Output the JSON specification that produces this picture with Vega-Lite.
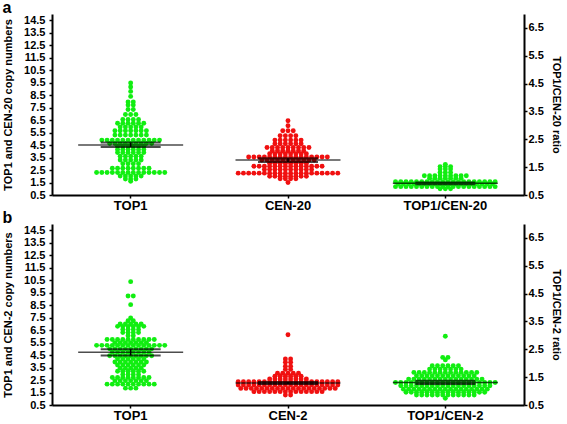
{
"$schema": "https://vega.github.io/schema/vega-lite/v6.json",
"padding": {"left": 2, "right": 0, "top": 0, "bottom": 0},
"spacing": -2,
"config": {
 "view": {"stroke": null},
 "font": "Liberation Sans",
 "axis": {"domainColor": "black", "domainWidth": 2, "tickColor": "black", "tickWidth": 1.5, "tickSize": 3, "labelColor": "black", "labelFont": "Liberation Sans", "labelFontWeight": "bold", "labelFontSize": 11, "labelOverlap": false, "grid": false, "titleColor": "black", "titleFont": "Liberation Sans", "titleFontWeight": "bold", "titleFontSize": 11},
 "title": {"color": "black", "font": "Liberation Sans", "fontWeight": "bold", "fontSize": 16, "anchor": "start", "frame": "bounds", "offset": -2}
},
"datasets": {
 "a": [
  {"g":"TOP1","v":9.47},{"g":"TOP1","v":9.15},{"g":"TOP1","v":8.8},{"g":"TOP1","v":8.4},
  {"g":"TOP1","v":7.95},{"g":"TOP1","v":7.95},
  {"g":"TOP1","v":7.7},{"g":"TOP1","v":7.7},
  {"g":"TOP1","v":7.35},{"g":"TOP1","v":7.35},
  {"g":"TOP1","v":6.95},{"g":"TOP1","v":6.95},{"g":"TOP1","v":6.95},
  {"g":"TOP1","v":6.55},{"g":"TOP1","v":6.55},{"g":"TOP1","v":6.55},{"g":"TOP1","v":6.55},
  {"g":"TOP1","v":6.25},{"g":"TOP1","v":6.25},{"g":"TOP1","v":6.25},{"g":"TOP1","v":6.25},{"g":"TOP1","v":6.25},{"g":"TOP1","v":6.25},
  {"g":"TOP1","v":5.95},{"g":"TOP1","v":5.95},{"g":"TOP1","v":5.95},{"g":"TOP1","v":5.95},{"g":"TOP1","v":5.95},
  {"g":"TOP1","v":5.65},{"g":"TOP1","v":5.65},{"g":"TOP1","v":5.65},{"g":"TOP1","v":5.65},{"g":"TOP1","v":5.65},{"g":"TOP1","v":5.65},{"g":"TOP1","v":5.65},
  {"g":"TOP1","v":5.3},{"g":"TOP1","v":5.3},{"g":"TOP1","v":5.3},{"g":"TOP1","v":5.3},{"g":"TOP1","v":5.3},{"g":"TOP1","v":5.3},{"g":"TOP1","v":5.3},
  {"g":"TOP1","v":4.9},{"g":"TOP1","v":4.9},{"g":"TOP1","v":4.9},{"g":"TOP1","v":4.9},{"g":"TOP1","v":4.9},{"g":"TOP1","v":4.9},{"g":"TOP1","v":4.9},{"g":"TOP1","v":4.9},{"g":"TOP1","v":4.9},{"g":"TOP1","v":4.9},{"g":"TOP1","v":4.9},{"g":"TOP1","v":4.9},
  {"g":"TOP1","v":4.62},{"g":"TOP1","v":4.62},{"g":"TOP1","v":4.62},{"g":"TOP1","v":4.62},{"g":"TOP1","v":4.62},{"g":"TOP1","v":4.62},{"g":"TOP1","v":4.62},{"g":"TOP1","v":4.62},{"g":"TOP1","v":4.62},
  {"g":"TOP1","v":4.4},{"g":"TOP1","v":4.4},{"g":"TOP1","v":4.4},{"g":"TOP1","v":4.4},{"g":"TOP1","v":4.4},{"g":"TOP1","v":4.4},
  {"g":"TOP1","v":4.15},{"g":"TOP1","v":4.15},{"g":"TOP1","v":4.15},{"g":"TOP1","v":4.15},{"g":"TOP1","v":4.15},{"g":"TOP1","v":4.15},
  {"g":"TOP1","v":3.9},{"g":"TOP1","v":3.9},{"g":"TOP1","v":3.9},{"g":"TOP1","v":3.9},{"g":"TOP1","v":3.9},{"g":"TOP1","v":3.9},
  {"g":"TOP1","v":3.6},{"g":"TOP1","v":3.6},{"g":"TOP1","v":3.6},{"g":"TOP1","v":3.6},{"g":"TOP1","v":3.6},
  {"g":"TOP1","v":3.3},{"g":"TOP1","v":3.3},{"g":"TOP1","v":3.3},{"g":"TOP1","v":3.3},{"g":"TOP1","v":3.3},
  {"g":"TOP1","v":3.0},{"g":"TOP1","v":3.0},{"g":"TOP1","v":3.0},{"g":"TOP1","v":3.0},
  {"g":"TOP1","v":2.65},{"g":"TOP1","v":2.65},{"g":"TOP1","v":2.65},{"g":"TOP1","v":2.65},{"g":"TOP1","v":2.65},{"g":"TOP1","v":2.65},{"g":"TOP1","v":2.65},{"g":"TOP1","v":2.65},
  {"g":"TOP1","v":2.3},{"g":"TOP1","v":2.3},{"g":"TOP1","v":2.3},{"g":"TOP1","v":2.3},{"g":"TOP1","v":2.3},{"g":"TOP1","v":2.3},{"g":"TOP1","v":2.3},{"g":"TOP1","v":2.3},{"g":"TOP1","v":2.3},{"g":"TOP1","v":2.3},{"g":"TOP1","v":2.3},{"g":"TOP1","v":2.3},{"g":"TOP1","v":2.3},{"g":"TOP1","v":2.3},
  {"g":"TOP1","v":2.02},{"g":"TOP1","v":2.02},{"g":"TOP1","v":2.02},{"g":"TOP1","v":2.02},{"g":"TOP1","v":2.02},
  {"g":"TOP1","v":1.78},{"g":"TOP1","v":1.78},{"g":"TOP1","v":1.78},
  {"g":"TOP1","v":1.6},
  {"g":"CEN-20","v":6.45},{"g":"CEN-20","v":6.05},
  {"g":"CEN-20","v":5.65},{"g":"CEN-20","v":5.65},{"g":"CEN-20","v":5.65},
  {"g":"CEN-20","v":5.25},{"g":"CEN-20","v":5.25},{"g":"CEN-20","v":5.25},{"g":"CEN-20","v":5.25},
  {"g":"CEN-20","v":4.9},{"g":"CEN-20","v":4.9},{"g":"CEN-20","v":4.9},{"g":"CEN-20","v":4.9},{"g":"CEN-20","v":4.9},{"g":"CEN-20","v":4.9},
  {"g":"CEN-20","v":4.6},{"g":"CEN-20","v":4.6},{"g":"CEN-20","v":4.6},{"g":"CEN-20","v":4.6},{"g":"CEN-20","v":4.6},{"g":"CEN-20","v":4.6},
  {"g":"CEN-20","v":4.3},{"g":"CEN-20","v":4.3},{"g":"CEN-20","v":4.3},{"g":"CEN-20","v":4.3},{"g":"CEN-20","v":4.3},{"g":"CEN-20","v":4.3},{"g":"CEN-20","v":4.3},{"g":"CEN-20","v":4.3},{"g":"CEN-20","v":4.3},
  {"g":"CEN-20","v":4.05},{"g":"CEN-20","v":4.05},{"g":"CEN-20","v":4.05},{"g":"CEN-20","v":4.05},{"g":"CEN-20","v":4.05},{"g":"CEN-20","v":4.05},{"g":"CEN-20","v":4.05},
  {"g":"CEN-20","v":3.8},{"g":"CEN-20","v":3.8},{"g":"CEN-20","v":3.8},{"g":"CEN-20","v":3.8},{"g":"CEN-20","v":3.8},{"g":"CEN-20","v":3.8},{"g":"CEN-20","v":3.8},{"g":"CEN-20","v":3.8},
  {"g":"CEN-20","v":3.55},{"g":"CEN-20","v":3.55},{"g":"CEN-20","v":3.55},{"g":"CEN-20","v":3.55},{"g":"CEN-20","v":3.55},{"g":"CEN-20","v":3.55},{"g":"CEN-20","v":3.55},{"g":"CEN-20","v":3.55},{"g":"CEN-20","v":3.55},{"g":"CEN-20","v":3.55},{"g":"CEN-20","v":3.55},{"g":"CEN-20","v":3.55},{"g":"CEN-20","v":3.55},{"g":"CEN-20","v":3.55},{"g":"CEN-20","v":3.55},{"g":"CEN-20","v":3.55},
  {"g":"CEN-20","v":3.3},{"g":"CEN-20","v":3.3},{"g":"CEN-20","v":3.3},{"g":"CEN-20","v":3.3},{"g":"CEN-20","v":3.3},{"g":"CEN-20","v":3.3},{"g":"CEN-20","v":3.3},{"g":"CEN-20","v":3.3},{"g":"CEN-20","v":3.3},{"g":"CEN-20","v":3.3},{"g":"CEN-20","v":3.3},
  {"g":"CEN-20","v":3.05},{"g":"CEN-20","v":3.05},{"g":"CEN-20","v":3.05},{"g":"CEN-20","v":3.05},{"g":"CEN-20","v":3.05},{"g":"CEN-20","v":3.05},{"g":"CEN-20","v":3.05},{"g":"CEN-20","v":3.05},
  {"g":"CEN-20","v":2.8},{"g":"CEN-20","v":2.8},{"g":"CEN-20","v":2.8},{"g":"CEN-20","v":2.8},{"g":"CEN-20","v":2.8},{"g":"CEN-20","v":2.8},{"g":"CEN-20","v":2.8},{"g":"CEN-20","v":2.8},{"g":"CEN-20","v":2.8},{"g":"CEN-20","v":2.8},{"g":"CEN-20","v":2.8},{"g":"CEN-20","v":2.8},{"g":"CEN-20","v":2.8},{"g":"CEN-20","v":2.8},
  {"g":"CEN-20","v":2.55},{"g":"CEN-20","v":2.55},{"g":"CEN-20","v":2.55},{"g":"CEN-20","v":2.55},{"g":"CEN-20","v":2.55},{"g":"CEN-20","v":2.55},{"g":"CEN-20","v":2.55},{"g":"CEN-20","v":2.55},{"g":"CEN-20","v":2.55},{"g":"CEN-20","v":2.55},
  {"g":"CEN-20","v":2.25},{"g":"CEN-20","v":2.25},{"g":"CEN-20","v":2.25},{"g":"CEN-20","v":2.25},{"g":"CEN-20","v":2.25},{"g":"CEN-20","v":2.25},{"g":"CEN-20","v":2.25},{"g":"CEN-20","v":2.25},{"g":"CEN-20","v":2.25},{"g":"CEN-20","v":2.25},{"g":"CEN-20","v":2.25},{"g":"CEN-20","v":2.25},{"g":"CEN-20","v":2.25},{"g":"CEN-20","v":2.25},{"g":"CEN-20","v":2.25},{"g":"CEN-20","v":2.25},{"g":"CEN-20","v":2.25},{"g":"CEN-20","v":2.25},{"g":"CEN-20","v":2.25},{"g":"CEN-20","v":2.25},
  {"g":"CEN-20","v":2.0},{"g":"CEN-20","v":2.0},{"g":"CEN-20","v":2.0},{"g":"CEN-20","v":2.0},{"g":"CEN-20","v":2.0},{"g":"CEN-20","v":2.0},{"g":"CEN-20","v":2.0},{"g":"CEN-20","v":2.0},
  {"g":"CEN-20","v":1.8},{"g":"CEN-20","v":1.8},{"g":"CEN-20","v":1.8},{"g":"CEN-20","v":1.8},
  {"g":"CEN-20","v":1.5},
  {"g":"TOP1/CEN-20","v":1.6},
  {"g":"TOP1/CEN-20","v":1.52},{"g":"TOP1/CEN-20","v":1.52},{"g":"TOP1/CEN-20","v":1.52},
  {"g":"TOP1/CEN-20","v":1.43},{"g":"TOP1/CEN-20","v":1.43},{"g":"TOP1/CEN-20","v":1.43},
  {"g":"TOP1/CEN-20","v":1.31},{"g":"TOP1/CEN-20","v":1.31},{"g":"TOP1/CEN-20","v":1.31},
  {"g":"TOP1/CEN-20","v":1.19},{"g":"TOP1/CEN-20","v":1.19},{"g":"TOP1/CEN-20","v":1.19},{"g":"TOP1/CEN-20","v":1.19},{"g":"TOP1/CEN-20","v":1.19},{"g":"TOP1/CEN-20","v":1.19},{"g":"TOP1/CEN-20","v":1.19},{"g":"TOP1/CEN-20","v":1.19},{"g":"TOP1/CEN-20","v":1.19},
  {"g":"TOP1/CEN-20","v":1.1},{"g":"TOP1/CEN-20","v":1.1},{"g":"TOP1/CEN-20","v":1.1},{"g":"TOP1/CEN-20","v":1.1},{"g":"TOP1/CEN-20","v":1.1},{"g":"TOP1/CEN-20","v":1.1},{"g":"TOP1/CEN-20","v":1.1},
  {"g":"TOP1/CEN-20","v":0.98},{"g":"TOP1/CEN-20","v":0.98},{"g":"TOP1/CEN-20","v":0.98},{"g":"TOP1/CEN-20","v":0.98},{"g":"TOP1/CEN-20","v":0.98},{"g":"TOP1/CEN-20","v":0.98},{"g":"TOP1/CEN-20","v":0.98},{"g":"TOP1/CEN-20","v":0.98},{"g":"TOP1/CEN-20","v":0.98},{"g":"TOP1/CEN-20","v":0.98},{"g":"TOP1/CEN-20","v":0.98},{"g":"TOP1/CEN-20","v":0.98},{"g":"TOP1/CEN-20","v":0.98},{"g":"TOP1/CEN-20","v":0.98},{"g":"TOP1/CEN-20","v":0.98},{"g":"TOP1/CEN-20","v":0.98},{"g":"TOP1/CEN-20","v":0.98},{"g":"TOP1/CEN-20","v":0.98},{"g":"TOP1/CEN-20","v":0.98},{"g":"TOP1/CEN-20","v":0.98},
  {"g":"TOP1/CEN-20","v":0.9},{"g":"TOP1/CEN-20","v":0.9},{"g":"TOP1/CEN-20","v":0.9},{"g":"TOP1/CEN-20","v":0.9},{"g":"TOP1/CEN-20","v":0.9},{"g":"TOP1/CEN-20","v":0.9},{"g":"TOP1/CEN-20","v":0.9},{"g":"TOP1/CEN-20","v":0.9},{"g":"TOP1/CEN-20","v":0.9},{"g":"TOP1/CEN-20","v":0.9},{"g":"TOP1/CEN-20","v":0.9},{"g":"TOP1/CEN-20","v":0.9},{"g":"TOP1/CEN-20","v":0.9},{"g":"TOP1/CEN-20","v":0.9},{"g":"TOP1/CEN-20","v":0.9},{"g":"TOP1/CEN-20","v":0.9},{"g":"TOP1/CEN-20","v":0.9},{"g":"TOP1/CEN-20","v":0.9},{"g":"TOP1/CEN-20","v":0.9},
  {"g":"TOP1/CEN-20","v":0.8},{"g":"TOP1/CEN-20","v":0.8},{"g":"TOP1/CEN-20","v":0.8},{"g":"TOP1/CEN-20","v":0.8},{"g":"TOP1/CEN-20","v":0.8},{"g":"TOP1/CEN-20","v":0.8},{"g":"TOP1/CEN-20","v":0.8},{"g":"TOP1/CEN-20","v":0.8},{"g":"TOP1/CEN-20","v":0.8},{"g":"TOP1/CEN-20","v":0.8},{"g":"TOP1/CEN-20","v":0.8},{"g":"TOP1/CEN-20","v":0.8},{"g":"TOP1/CEN-20","v":0.8},{"g":"TOP1/CEN-20","v":0.8},{"g":"TOP1/CEN-20","v":0.8},{"g":"TOP1/CEN-20","v":0.8},{"g":"TOP1/CEN-20","v":0.8},{"g":"TOP1/CEN-20","v":0.8},{"g":"TOP1/CEN-20","v":0.8},{"g":"TOP1/CEN-20","v":0.8},
  {"g":"TOP1/CEN-20","v":0.72},{"g":"TOP1/CEN-20","v":0.72},{"g":"TOP1/CEN-20","v":0.72}
 ],
 "b": [
  {"g":"TOP1","v":10.38},
  {"g":"TOP1","v":9.23},{"g":"TOP1","v":9.23},
  {"g":"TOP1","v":8.54},
  {"g":"TOP1","v":7.47},
  {"g":"TOP1","v":7.25},{"g":"TOP1","v":7.25},
  {"g":"TOP1","v":7.0},{"g":"TOP1","v":7.0},{"g":"TOP1","v":7.0},{"g":"TOP1","v":7.0},{"g":"TOP1","v":7.0},
  {"g":"TOP1","v":6.8},{"g":"TOP1","v":6.8},{"g":"TOP1","v":6.8},{"g":"TOP1","v":6.8},{"g":"TOP1","v":6.8},{"g":"TOP1","v":6.8},
  {"g":"TOP1","v":6.55},{"g":"TOP1","v":6.55},{"g":"TOP1","v":6.55},{"g":"TOP1","v":6.55},
  {"g":"TOP1","v":6.3},{"g":"TOP1","v":6.3},{"g":"TOP1","v":6.3},{"g":"TOP1","v":6.3},
  {"g":"TOP1","v":6.05},{"g":"TOP1","v":6.05},
  {"g":"TOP1","v":5.75},{"g":"TOP1","v":5.75},{"g":"TOP1","v":5.75},{"g":"TOP1","v":5.75},{"g":"TOP1","v":5.75},{"g":"TOP1","v":5.75},{"g":"TOP1","v":5.75},{"g":"TOP1","v":5.75},{"g":"TOP1","v":5.75},{"g":"TOP1","v":5.75},
  {"g":"TOP1","v":5.5},{"g":"TOP1","v":5.5},{"g":"TOP1","v":5.5},{"g":"TOP1","v":5.5},{"g":"TOP1","v":5.5},{"g":"TOP1","v":5.5},{"g":"TOP1","v":5.5},
  {"g":"TOP1","v":5.28},{"g":"TOP1","v":5.28},{"g":"TOP1","v":5.28},{"g":"TOP1","v":5.28},{"g":"TOP1","v":5.28},{"g":"TOP1","v":5.28},{"g":"TOP1","v":5.28},{"g":"TOP1","v":5.28},{"g":"TOP1","v":5.28},{"g":"TOP1","v":5.28},{"g":"TOP1","v":5.28},{"g":"TOP1","v":5.28},{"g":"TOP1","v":5.28},{"g":"TOP1","v":5.28},
  {"g":"TOP1","v":5.0},{"g":"TOP1","v":5.0},{"g":"TOP1","v":5.0},{"g":"TOP1","v":5.0},{"g":"TOP1","v":5.0},{"g":"TOP1","v":5.0},{"g":"TOP1","v":5.0},{"g":"TOP1","v":5.0},{"g":"TOP1","v":5.0},
  {"g":"TOP1","v":4.72},{"g":"TOP1","v":4.72},{"g":"TOP1","v":4.72},{"g":"TOP1","v":4.72},{"g":"TOP1","v":4.72},{"g":"TOP1","v":4.72},{"g":"TOP1","v":4.72},{"g":"TOP1","v":4.72},
  {"g":"TOP1","v":4.45},{"g":"TOP1","v":4.45},{"g":"TOP1","v":4.45},{"g":"TOP1","v":4.45},{"g":"TOP1","v":4.45},{"g":"TOP1","v":4.45},{"g":"TOP1","v":4.45},{"g":"TOP1","v":4.45},{"g":"TOP1","v":4.45},
  {"g":"TOP1","v":4.2},{"g":"TOP1","v":4.2},{"g":"TOP1","v":4.2},{"g":"TOP1","v":4.2},{"g":"TOP1","v":4.2},{"g":"TOP1","v":4.2},
  {"g":"TOP1","v":3.95},{"g":"TOP1","v":3.95},{"g":"TOP1","v":3.95},{"g":"TOP1","v":3.95},{"g":"TOP1","v":3.95},{"g":"TOP1","v":3.95},{"g":"TOP1","v":3.95},
  {"g":"TOP1","v":3.7},{"g":"TOP1","v":3.7},{"g":"TOP1","v":3.7},{"g":"TOP1","v":3.7},{"g":"TOP1","v":3.7},{"g":"TOP1","v":3.7},
  {"g":"TOP1","v":3.45},{"g":"TOP1","v":3.45},{"g":"TOP1","v":3.45},{"g":"TOP1","v":3.45},{"g":"TOP1","v":3.45},
  {"g":"TOP1","v":3.2},{"g":"TOP1","v":3.2},{"g":"TOP1","v":3.2},{"g":"TOP1","v":3.2},{"g":"TOP1","v":3.2},{"g":"TOP1","v":3.2},
  {"g":"TOP1","v":2.95},{"g":"TOP1","v":2.95},{"g":"TOP1","v":2.95},{"g":"TOP1","v":2.95},
  {"g":"TOP1","v":2.7},{"g":"TOP1","v":2.7},{"g":"TOP1","v":2.7},{"g":"TOP1","v":2.7},{"g":"TOP1","v":2.7},{"g":"TOP1","v":2.7},{"g":"TOP1","v":2.7},{"g":"TOP1","v":2.7},
  {"g":"TOP1","v":2.45},{"g":"TOP1","v":2.45},{"g":"TOP1","v":2.45},{"g":"TOP1","v":2.45},{"g":"TOP1","v":2.45},{"g":"TOP1","v":2.45},{"g":"TOP1","v":2.45},
  {"g":"TOP1","v":2.17},{"g":"TOP1","v":2.17},{"g":"TOP1","v":2.17},{"g":"TOP1","v":2.17},{"g":"TOP1","v":2.17},{"g":"TOP1","v":2.17},{"g":"TOP1","v":2.17},{"g":"TOP1","v":2.17},{"g":"TOP1","v":2.17},{"g":"TOP1","v":2.17},
  {"g":"TOP1","v":1.85},{"g":"TOP1","v":1.85},{"g":"TOP1","v":1.85},
  {"g":"CEN-2","v":6.13},
  {"g":"CEN-2","v":4.19},{"g":"CEN-2","v":4.19},
  {"g":"CEN-2","v":3.92},{"g":"CEN-2","v":3.92},
  {"g":"CEN-2","v":3.6},{"g":"CEN-2","v":3.6},
  {"g":"CEN-2","v":3.35},{"g":"CEN-2","v":3.35},
  {"g":"CEN-2","v":3.04},{"g":"CEN-2","v":3.04},{"g":"CEN-2","v":3.04},{"g":"CEN-2","v":3.04},{"g":"CEN-2","v":3.04},
  {"g":"CEN-2","v":2.8},{"g":"CEN-2","v":2.8},{"g":"CEN-2","v":2.8},{"g":"CEN-2","v":2.8},{"g":"CEN-2","v":2.8},{"g":"CEN-2","v":2.8},
  {"g":"CEN-2","v":2.58},{"g":"CEN-2","v":2.58},{"g":"CEN-2","v":2.58},{"g":"CEN-2","v":2.58},{"g":"CEN-2","v":2.58},{"g":"CEN-2","v":2.58},{"g":"CEN-2","v":2.58},{"g":"CEN-2","v":2.58},
  {"g":"CEN-2","v":2.37},{"g":"CEN-2","v":2.37},{"g":"CEN-2","v":2.37},{"g":"CEN-2","v":2.37},{"g":"CEN-2","v":2.37},{"g":"CEN-2","v":2.37},{"g":"CEN-2","v":2.37},{"g":"CEN-2","v":2.37},{"g":"CEN-2","v":2.37},{"g":"CEN-2","v":2.37},{"g":"CEN-2","v":2.37},{"g":"CEN-2","v":2.37},{"g":"CEN-2","v":2.37},{"g":"CEN-2","v":2.37},{"g":"CEN-2","v":2.37},{"g":"CEN-2","v":2.37},{"g":"CEN-2","v":2.37},{"g":"CEN-2","v":2.37},{"g":"CEN-2","v":2.37},{"g":"CEN-2","v":2.37},
  {"g":"CEN-2","v":2.1},{"g":"CEN-2","v":2.1},{"g":"CEN-2","v":2.1},{"g":"CEN-2","v":2.1},{"g":"CEN-2","v":2.1},{"g":"CEN-2","v":2.1},{"g":"CEN-2","v":2.1},{"g":"CEN-2","v":2.1},{"g":"CEN-2","v":2.1},{"g":"CEN-2","v":2.1},{"g":"CEN-2","v":2.1},{"g":"CEN-2","v":2.1},{"g":"CEN-2","v":2.1},{"g":"CEN-2","v":2.1},{"g":"CEN-2","v":2.1},{"g":"CEN-2","v":2.1},{"g":"CEN-2","v":2.1},{"g":"CEN-2","v":2.1},{"g":"CEN-2","v":2.1},{"g":"CEN-2","v":2.1},
  {"g":"CEN-2","v":1.83},{"g":"CEN-2","v":1.83},{"g":"CEN-2","v":1.83},{"g":"CEN-2","v":1.83},{"g":"CEN-2","v":1.83},{"g":"CEN-2","v":1.83},{"g":"CEN-2","v":1.83},{"g":"CEN-2","v":1.83},{"g":"CEN-2","v":1.83},{"g":"CEN-2","v":1.83},{"g":"CEN-2","v":1.83},{"g":"CEN-2","v":1.83},{"g":"CEN-2","v":1.83},{"g":"CEN-2","v":1.83},{"g":"CEN-2","v":1.83},{"g":"CEN-2","v":1.83},{"g":"CEN-2","v":1.83},{"g":"CEN-2","v":1.83},{"g":"CEN-2","v":1.83},
  {"g":"CEN-2","v":1.57},{"g":"CEN-2","v":1.57},{"g":"CEN-2","v":1.57},{"g":"CEN-2","v":1.57},{"g":"CEN-2","v":1.57},{"g":"CEN-2","v":1.57},{"g":"CEN-2","v":1.57},{"g":"CEN-2","v":1.57},{"g":"CEN-2","v":1.57},{"g":"CEN-2","v":1.57},{"g":"CEN-2","v":1.57},{"g":"CEN-2","v":1.57},{"g":"CEN-2","v":1.57},{"g":"CEN-2","v":1.57},
  {"g":"CEN-2","v":1.3},{"g":"CEN-2","v":1.3},
  {"g":"TOP1/CEN-2","v":2.97},
  {"g":"TOP1/CEN-2","v":2.21},{"g":"TOP1/CEN-2","v":2.21},
  {"g":"TOP1/CEN-2","v":2.12},
  {"g":"TOP1/CEN-2","v":1.91},{"g":"TOP1/CEN-2","v":1.91},{"g":"TOP1/CEN-2","v":1.91},{"g":"TOP1/CEN-2","v":1.91},{"g":"TOP1/CEN-2","v":1.91},{"g":"TOP1/CEN-2","v":1.91},
  {"g":"TOP1/CEN-2","v":1.79},{"g":"TOP1/CEN-2","v":1.79},{"g":"TOP1/CEN-2","v":1.79},{"g":"TOP1/CEN-2","v":1.79},{"g":"TOP1/CEN-2","v":1.79},{"g":"TOP1/CEN-2","v":1.79},{"g":"TOP1/CEN-2","v":1.79},
  {"g":"TOP1/CEN-2","v":1.67},{"g":"TOP1/CEN-2","v":1.67},{"g":"TOP1/CEN-2","v":1.67},{"g":"TOP1/CEN-2","v":1.67},{"g":"TOP1/CEN-2","v":1.67},{"g":"TOP1/CEN-2","v":1.67},{"g":"TOP1/CEN-2","v":1.67},{"g":"TOP1/CEN-2","v":1.67},{"g":"TOP1/CEN-2","v":1.67},{"g":"TOP1/CEN-2","v":1.67},{"g":"TOP1/CEN-2","v":1.67},{"g":"TOP1/CEN-2","v":1.67},{"g":"TOP1/CEN-2","v":1.67},
  {"g":"TOP1/CEN-2","v":1.55},{"g":"TOP1/CEN-2","v":1.55},{"g":"TOP1/CEN-2","v":1.55},{"g":"TOP1/CEN-2","v":1.55},{"g":"TOP1/CEN-2","v":1.55},{"g":"TOP1/CEN-2","v":1.55},{"g":"TOP1/CEN-2","v":1.55},{"g":"TOP1/CEN-2","v":1.55},{"g":"TOP1/CEN-2","v":1.55},{"g":"TOP1/CEN-2","v":1.55},{"g":"TOP1/CEN-2","v":1.55},{"g":"TOP1/CEN-2","v":1.55},
  {"g":"TOP1/CEN-2","v":1.43},{"g":"TOP1/CEN-2","v":1.43},{"g":"TOP1/CEN-2","v":1.43},{"g":"TOP1/CEN-2","v":1.43},{"g":"TOP1/CEN-2","v":1.43},{"g":"TOP1/CEN-2","v":1.43},{"g":"TOP1/CEN-2","v":1.43},{"g":"TOP1/CEN-2","v":1.43},{"g":"TOP1/CEN-2","v":1.43},{"g":"TOP1/CEN-2","v":1.43},{"g":"TOP1/CEN-2","v":1.43},{"g":"TOP1/CEN-2","v":1.43},{"g":"TOP1/CEN-2","v":1.43},{"g":"TOP1/CEN-2","v":1.43},{"g":"TOP1/CEN-2","v":1.43},
  {"g":"TOP1/CEN-2","v":1.31},{"g":"TOP1/CEN-2","v":1.31},{"g":"TOP1/CEN-2","v":1.31},{"g":"TOP1/CEN-2","v":1.31},{"g":"TOP1/CEN-2","v":1.31},{"g":"TOP1/CEN-2","v":1.31},{"g":"TOP1/CEN-2","v":1.31},{"g":"TOP1/CEN-2","v":1.31},{"g":"TOP1/CEN-2","v":1.31},{"g":"TOP1/CEN-2","v":1.31},{"g":"TOP1/CEN-2","v":1.31},{"g":"TOP1/CEN-2","v":1.31},{"g":"TOP1/CEN-2","v":1.31},{"g":"TOP1/CEN-2","v":1.31},{"g":"TOP1/CEN-2","v":1.31},{"g":"TOP1/CEN-2","v":1.31},{"g":"TOP1/CEN-2","v":1.31},{"g":"TOP1/CEN-2","v":1.31},{"g":"TOP1/CEN-2","v":1.31},{"g":"TOP1/CEN-2","v":1.31},
  {"g":"TOP1/CEN-2","v":1.19},{"g":"TOP1/CEN-2","v":1.19},{"g":"TOP1/CEN-2","v":1.19},{"g":"TOP1/CEN-2","v":1.19},{"g":"TOP1/CEN-2","v":1.19},{"g":"TOP1/CEN-2","v":1.19},{"g":"TOP1/CEN-2","v":1.19},{"g":"TOP1/CEN-2","v":1.19},{"g":"TOP1/CEN-2","v":1.19},{"g":"TOP1/CEN-2","v":1.19},{"g":"TOP1/CEN-2","v":1.19},{"g":"TOP1/CEN-2","v":1.19},{"g":"TOP1/CEN-2","v":1.19},{"g":"TOP1/CEN-2","v":1.19},{"g":"TOP1/CEN-2","v":1.19},{"g":"TOP1/CEN-2","v":1.19},{"g":"TOP1/CEN-2","v":1.19},{"g":"TOP1/CEN-2","v":1.19},
  {"g":"TOP1/CEN-2","v":1.07},{"g":"TOP1/CEN-2","v":1.07},{"g":"TOP1/CEN-2","v":1.07},{"g":"TOP1/CEN-2","v":1.07},{"g":"TOP1/CEN-2","v":1.07},{"g":"TOP1/CEN-2","v":1.07},{"g":"TOP1/CEN-2","v":1.07},{"g":"TOP1/CEN-2","v":1.07},{"g":"TOP1/CEN-2","v":1.07},{"g":"TOP1/CEN-2","v":1.07},{"g":"TOP1/CEN-2","v":1.07},{"g":"TOP1/CEN-2","v":1.07},{"g":"TOP1/CEN-2","v":1.07},{"g":"TOP1/CEN-2","v":1.07},{"g":"TOP1/CEN-2","v":1.07},{"g":"TOP1/CEN-2","v":1.07},{"g":"TOP1/CEN-2","v":1.07},
  {"g":"TOP1/CEN-2","v":0.96},{"g":"TOP1/CEN-2","v":0.96},{"g":"TOP1/CEN-2","v":0.96},{"g":"TOP1/CEN-2","v":0.96},{"g":"TOP1/CEN-2","v":0.96},{"g":"TOP1/CEN-2","v":0.96},{"g":"TOP1/CEN-2","v":0.96},{"g":"TOP1/CEN-2","v":0.96},{"g":"TOP1/CEN-2","v":0.96},{"g":"TOP1/CEN-2","v":0.96},{"g":"TOP1/CEN-2","v":0.96},{"g":"TOP1/CEN-2","v":0.96},{"g":"TOP1/CEN-2","v":0.96},{"g":"TOP1/CEN-2","v":0.96},{"g":"TOP1/CEN-2","v":0.96},{"g":"TOP1/CEN-2","v":0.96},
  {"g":"TOP1/CEN-2","v":0.86},{"g":"TOP1/CEN-2","v":0.86},{"g":"TOP1/CEN-2","v":0.86},{"g":"TOP1/CEN-2","v":0.86},{"g":"TOP1/CEN-2","v":0.86},{"g":"TOP1/CEN-2","v":0.86},{"g":"TOP1/CEN-2","v":0.86},{"g":"TOP1/CEN-2","v":0.86},{"g":"TOP1/CEN-2","v":0.86},{"g":"TOP1/CEN-2","v":0.86},{"g":"TOP1/CEN-2","v":0.86},{"g":"TOP1/CEN-2","v":0.86},
  {"g":"TOP1/CEN-2","v":0.74}
 ],
 "sa": [
  {"g":"TOP1","m":4.5,"lo":4.35,"hi":4.7},
  {"g":"CEN-20","m":3.3,"lo":3.15,"hi":3.45},
  {"g":"TOP1/CEN-20","m":0.92,"lo":0.88,"hi":0.96}
 ],
 "sb": [
  {"g":"TOP1","m":4.72,"lo":4.47,"hi":4.97},
  {"g":"CEN-2","m":2.26,"lo":2.18,"hi":2.34},
  {"g":"TOP1/CEN-2","m":1.31,"lo":1.25,"hi":1.37}
 ]
},
"vconcat": [
 {
  "title": {"text": "a"},
  "width": 472, "height": 181,
  "layer": [
   {"layer": [
     {"data": {"name": "a"},
      "transform": [{"filter": "datum.g != 'TOP1/CEN-20'"}, {"window": [{"op": "row_number", "as": "rn"}, {"op": "count", "as": "n"}], "groupby": ["g", "v"], "frame": [null, null]}, {"calculate": "datum.rn - (datum.n + 1) / 2", "as": "o"}],
      "mark": {"type": "circle", "size": 24, "opacity": 1},
      "encoding": {
       "x": {"field": "g", "type": "nominal", "sort": null, "scale": {"domain": ["TOP1", "CEN-20", "TOP1/CEN-20"], "paddingInner": 0, "paddingOuter": 0}, "axis": {"title": null, "labelAngle": 0, "labelFontSize": 13, "labelPadding": 1}},
       "xOffset": {"field": "o", "type": "quantitative", "scale": {"domain": [-15, 15]}},
       "y": {"field": "v", "type": "quantitative", "scale": {"domain": [0.5, 15], "nice": false, "zero": false}, "axis": {"values": [0.5,1.5,2.5,3.5,4.5,5.5,6.5,7.5,8.5,9.5,10.5,11.5,12.5,13.5,14.5], "tickCount": 30, "labelOverlap": false, "format": ".1f", "title": "TOP1 and CEN-20 copy numbers", "titlePadding": 10, "labelPadding": 4}},
       "color": {"field": "g", "type": "nominal", "scale": {"domain": ["TOP1", "CEN-20", "TOP1/CEN-20", "CEN-2", "TOP1/CEN-2"], "range": ["#11ee11", "#f01010", "#11ee11", "#f01010", "#11ee11"]}, "legend": null}
      }},
     {"data": {"name": "sa"}, "transform": [{"filter": "datum.g != 'TOP1/CEN-20'"}],
      "mark": {"type": "tick", "orient": "horizontal", "size": 105, "thickness": 1.5, "color": "black"},
      "encoding": {"x": {"field": "g", "type": "nominal", "title": null}, "y": {"field": "m", "type": "quantitative", "scale": {"domain": [0.5, 15], "nice": false, "zero": false}, "title": "TOP1 and CEN-20 copy numbers"}}},
     {"data": {"name": "sa"}, "transform": [{"filter": "datum.g != 'TOP1/CEN-20'"}],
      "mark": {"type": "tick", "orient": "horizontal", "size": 60, "thickness": 2, "color": "black"},
      "encoding": {"x": {"field": "g", "type": "nominal", "title": null}, "y": {"field": "lo", "type": "quantitative", "scale": {"domain": [0.5, 15], "nice": false, "zero": false}, "title": "TOP1 and CEN-20 copy numbers"}}},
     {"data": {"name": "sa"}, "transform": [{"filter": "datum.g != 'TOP1/CEN-20'"}],
      "mark": {"type": "tick", "orient": "horizontal", "size": 60, "thickness": 2, "color": "black"},
      "encoding": {"x": {"field": "g", "type": "nominal", "title": null}, "y": {"field": "hi", "type": "quantitative", "scale": {"domain": [0.5, 15], "nice": false, "zero": false}, "title": "TOP1 and CEN-20 copy numbers"}}},
     {"data": {"name": "sa"}, "transform": [{"filter": "datum.g != 'TOP1/CEN-20'"}],
      "mark": {"type": "rule", "strokeWidth": 1.5, "color": "black"},
      "encoding": {"x": {"field": "g", "type": "nominal", "title": null}, "y": {"field": "lo", "type": "quantitative", "scale": {"domain": [0.5, 15], "nice": false, "zero": false}, "title": "TOP1 and CEN-20 copy numbers"}, "y2": {"field": "hi"}}}
   ]},
   {"layer": [
     {"data": {"name": "a"},
      "transform": [{"filter": "datum.g == 'TOP1/CEN-20'"}, {"window": [{"op": "row_number", "as": "rn"}, {"op": "count", "as": "n"}], "groupby": ["g", "v"], "frame": [null, null]}, {"calculate": "datum.rn - (datum.n + 1) / 2", "as": "o"}],
      "mark": {"type": "circle", "size": 24, "opacity": 1},
      "encoding": {
       "x": {"field": "g", "type": "nominal", "title": null},
       "xOffset": {"field": "o", "type": "quantitative", "scale": {"domain": [-15, 15]}},
       "y": {"field": "v", "type": "quantitative", "scale": {"domain": [0.5, 7], "nice": false, "zero": false}, "axis": {"orient": "right", "values": [0.5,1.5,2.5,3.5,4.5,5.5,6.5], "tickCount": 20, "labelOverlap": false, "format": ".1f", "title": "TOP1/CEN-20 ratio", "titlePadding": 7, "labelPadding": 1}},
       "color": {"field": "g", "type": "nominal", "legend": null}
      }},
     {"data": {"name": "sa"}, "transform": [{"filter": "datum.g == 'TOP1/CEN-20'"}],
      "mark": {"type": "tick", "orient": "horizontal", "size": 105, "thickness": 1.5, "color": "black"},
      "encoding": {"x": {"field": "g", "type": "nominal", "title": null}, "y": {"field": "m", "type": "quantitative", "scale": {"domain": [0.5, 7], "nice": false, "zero": false}, "title": "TOP1/CEN-20 ratio"}}},
     {"data": {"name": "sa"}, "transform": [{"filter": "datum.g == 'TOP1/CEN-20'"}],
      "mark": {"type": "tick", "orient": "horizontal", "size": 60, "thickness": 1.5, "color": "black"},
      "encoding": {"x": {"field": "g", "type": "nominal", "title": null}, "y": {"field": "lo", "type": "quantitative", "scale": {"domain": [0.5, 7], "nice": false, "zero": false}, "title": "TOP1/CEN-20 ratio"}}},
     {"data": {"name": "sa"}, "transform": [{"filter": "datum.g == 'TOP1/CEN-20'"}],
      "mark": {"type": "tick", "orient": "horizontal", "size": 60, "thickness": 1.5, "color": "black"},
      "encoding": {"x": {"field": "g", "type": "nominal", "title": null}, "y": {"field": "hi", "type": "quantitative", "scale": {"domain": [0.5, 7], "nice": false, "zero": false}, "title": "TOP1/CEN-20 ratio"}}}
   ]}
  ],
  "resolve": {"scale": {"y": "independent"}}
 },
 {
  "title": {"text": "b"},
  "width": 472, "height": 181,
  "layer": [
   {"layer": [
     {"data": {"name": "b"},
      "transform": [{"filter": "datum.g != 'TOP1/CEN-2'"}, {"window": [{"op": "row_number", "as": "rn"}, {"op": "count", "as": "n"}], "groupby": ["g", "v"], "frame": [null, null]}, {"calculate": "datum.rn - (datum.n + 1) / 2", "as": "o"}],
      "mark": {"type": "circle", "size": 24, "opacity": 1},
      "encoding": {
       "x": {"field": "g", "type": "nominal", "sort": null, "scale": {"domain": ["TOP1", "CEN-2", "TOP1/CEN-2"], "paddingInner": 0, "paddingOuter": 0}, "axis": {"title": null, "labelAngle": 0, "labelFontSize": 13, "labelPadding": 1}},
       "xOffset": {"field": "o", "type": "quantitative", "scale": {"domain": [-15, 15]}},
       "y": {"field": "v", "type": "quantitative", "scale": {"domain": [0.5, 15], "nice": false, "zero": false}, "axis": {"values": [0.5,1.5,2.5,3.5,4.5,5.5,6.5,7.5,8.5,9.5,10.5,11.5,12.5,13.5,14.5], "tickCount": 30, "labelOverlap": false, "format": ".1f", "title": "TOP1 and CEN-2 copy numbers", "titlePadding": 10, "labelPadding": 4}},
       "color": {"field": "g", "type": "nominal", "legend": null}
      }},
     {"data": {"name": "sb"}, "transform": [{"filter": "datum.g != 'TOP1/CEN-2'"}],
      "mark": {"type": "tick", "orient": "horizontal", "size": 105, "thickness": 1.5, "color": "black"},
      "encoding": {"x": {"field": "g", "type": "nominal", "title": null}, "y": {"field": "m", "type": "quantitative", "scale": {"domain": [0.5, 15], "nice": false, "zero": false}, "title": "TOP1 and CEN-2 copy numbers"}}},
     {"data": {"name": "sb"}, "transform": [{"filter": "datum.g != 'TOP1/CEN-2'"}],
      "mark": {"type": "tick", "orient": "horizontal", "size": 60, "thickness": 2, "color": "black"},
      "encoding": {"x": {"field": "g", "type": "nominal", "title": null}, "y": {"field": "lo", "type": "quantitative", "scale": {"domain": [0.5, 15], "nice": false, "zero": false}, "title": "TOP1 and CEN-2 copy numbers"}}},
     {"data": {"name": "sb"}, "transform": [{"filter": "datum.g != 'TOP1/CEN-2'"}],
      "mark": {"type": "tick", "orient": "horizontal", "size": 60, "thickness": 2, "color": "black"},
      "encoding": {"x": {"field": "g", "type": "nominal", "title": null}, "y": {"field": "hi", "type": "quantitative", "scale": {"domain": [0.5, 15], "nice": false, "zero": false}, "title": "TOP1 and CEN-2 copy numbers"}}},
     {"data": {"name": "sb"}, "transform": [{"filter": "datum.g != 'TOP1/CEN-2'"}],
      "mark": {"type": "rule", "strokeWidth": 1.5, "color": "black"},
      "encoding": {"x": {"field": "g", "type": "nominal", "title": null}, "y": {"field": "lo", "type": "quantitative", "scale": {"domain": [0.5, 15], "nice": false, "zero": false}, "title": "TOP1 and CEN-2 copy numbers"}, "y2": {"field": "hi"}}}
   ]},
   {"layer": [
     {"data": {"name": "b"},
      "transform": [{"filter": "datum.g == 'TOP1/CEN-2'"}, {"window": [{"op": "row_number", "as": "rn"}, {"op": "count", "as": "n"}], "groupby": ["g", "v"], "frame": [null, null]}, {"calculate": "datum.rn - (datum.n + 1) / 2", "as": "o"}],
      "mark": {"type": "circle", "size": 24, "opacity": 1},
      "encoding": {
       "x": {"field": "g", "type": "nominal", "title": null},
       "xOffset": {"field": "o", "type": "quantitative", "scale": {"domain": [-15, 15]}},
       "y": {"field": "v", "type": "quantitative", "scale": {"domain": [0.5, 7], "nice": false, "zero": false}, "axis": {"orient": "right", "values": [0.5,1.5,2.5,3.5,4.5,5.5,6.5], "tickCount": 20, "labelOverlap": false, "format": ".1f", "title": "TOP1/CEN-2 ratio", "titlePadding": 7, "labelPadding": 1}},
       "color": {"field": "g", "type": "nominal", "legend": null}
      }},
     {"data": {"name": "sb"}, "transform": [{"filter": "datum.g == 'TOP1/CEN-2'"}],
      "mark": {"type": "tick", "orient": "horizontal", "size": 105, "thickness": 1.5, "color": "black"},
      "encoding": {"x": {"field": "g", "type": "nominal", "title": null}, "y": {"field": "m", "type": "quantitative", "scale": {"domain": [0.5, 7], "nice": false, "zero": false}, "title": "TOP1/CEN-2 ratio"}}},
     {"data": {"name": "sb"}, "transform": [{"filter": "datum.g == 'TOP1/CEN-2'"}],
      "mark": {"type": "tick", "orient": "horizontal", "size": 60, "thickness": 2, "color": "black"},
      "encoding": {"x": {"field": "g", "type": "nominal", "title": null}, "y": {"field": "lo", "type": "quantitative", "scale": {"domain": [0.5, 7], "nice": false, "zero": false}, "title": "TOP1/CEN-2 ratio"}}},
     {"data": {"name": "sb"}, "transform": [{"filter": "datum.g == 'TOP1/CEN-2'"}],
      "mark": {"type": "tick", "orient": "horizontal", "size": 60, "thickness": 2, "color": "black"},
      "encoding": {"x": {"field": "g", "type": "nominal", "title": null}, "y": {"field": "hi", "type": "quantitative", "scale": {"domain": [0.5, 7], "nice": false, "zero": false}, "title": "TOP1/CEN-2 ratio"}}}
   ]}
  ],
  "resolve": {"scale": {"y": "independent"}}
 }
]
}
